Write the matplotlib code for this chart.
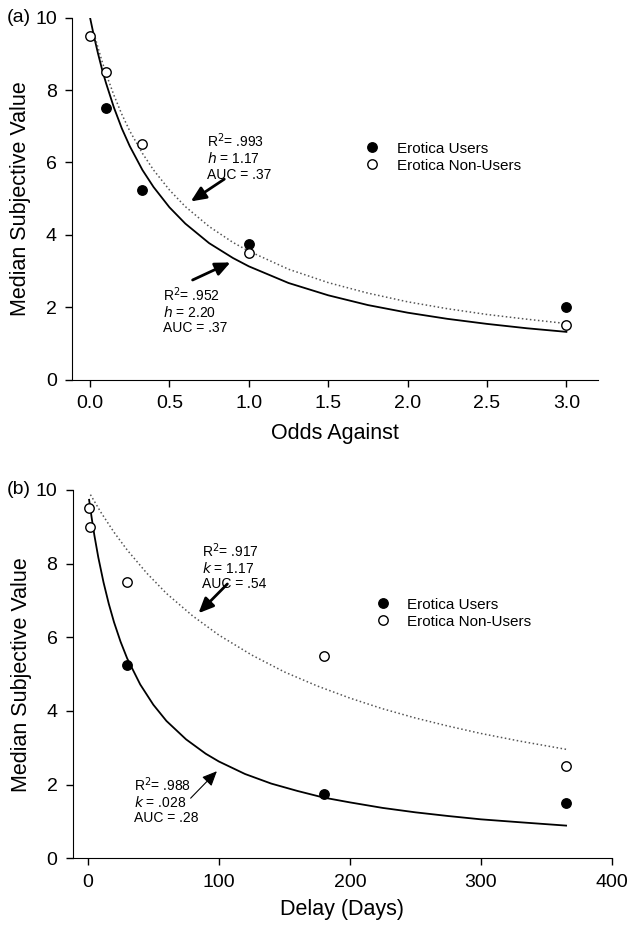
import matplotlib
matplotlib.use('Agg')
import matplotlib.pyplot as plt

plt.rcParams['font.family'] = ['Liberation Sans', 'DejaVu Sans']

# (a) probability discounting, odds against
odds_users = [0.1, 0.33, 1.0, 3.0]
sv_users_a = [7.5, 5.25, 3.75, 2.0]
odds_non = [0.0, 0.1, 0.33, 1.0, 3.0]
sv_non_a = [9.5, 8.5, 6.5, 3.5, 1.5]

# fitted curves, values
fit_x_users_a = [0, 0.025, 0.05, 0.075, 0.1, 0.15, 0.2, 0.25, 0.33, 0.4, 0.5, 0.6,
                 0.75, 0.9, 1.0, 1.25, 1.5, 1.75, 2.0, 2.25, 2.5, 2.75, 3.0]
fit_users_a = [10, 9.48, 9.01, 8.58, 8.2, 7.52, 6.94, 6.45, 5.79, 5.32, 4.76, 4.31,
               3.77, 3.36, 3.13, 2.67, 2.33, 2.06, 1.85, 1.68, 1.54, 1.42, 1.32]
fit_x_non_a = [0.025, 0.05, 0.075, 0.1, 0.15, 0.2, 0.25, 0.33, 0.4, 0.5, 0.6,
               0.75, 0.9, 1.0, 1.25, 1.5, 1.75, 2.0, 2.25, 2.5, 2.75, 3.0]
fit_non_a = [9.56, 9.17, 8.8, 8.46, 7.86, 7.33, 6.87, 6.25, 5.79, 5.24, 4.78,
             4.23, 3.79, 3.55, 3.05, 2.68, 2.39, 2.15, 1.96, 1.8, 1.67, 1.55]

# (b) delay discounting, days
days_users = [30, 180, 365]
sv_users_b = [5.25, 1.75, 1.5]
days_non = [1, 2, 30, 180, 365]
sv_non_b = [9.5, 9.0, 7.5, 5.5, 2.5]

fit_x_users_b = [1, 3, 5, 8, 12, 16, 20, 25, 30, 40, 50, 60, 75, 90, 100, 120,
                 140, 160, 180, 200, 225, 250, 275, 300, 330, 365]
fit_users_b = [9.73, 9.23, 8.77, 8.17, 7.49, 6.91, 6.41, 5.88, 5.43, 4.72, 4.17,
               3.73, 3.23, 2.84, 2.63, 2.29, 2.03, 1.83, 1.65, 1.52, 1.37, 1.25,
               1.15, 1.06, 0.98, 0.89]
fit_x_non_b = [2, 10, 20, 30, 45, 60, 80, 100, 125, 150, 175, 200, 225, 250,
               275, 300, 330, 365]
fit_non_b = [9.87, 9.39, 8.85, 8.37, 7.74, 7.19, 6.58, 6.06, 5.52, 5.06, 4.68,
             4.35, 4.06, 3.81, 3.59, 3.39, 3.18, 2.96]

fig = plt.figure(figsize=(6.27, 9.26), dpi=100)
ax_a = fig.add_axes([0.115, 0.590, 0.839, 0.391])
ax_b = fig.add_axes([0.116, 0.073, 0.860, 0.398])

ARROW = dict(arrowstyle='-|>,head_length=0.9,head_width=0.4', color='black', lw=2.0)


def style(ax):
    for s in ('top', 'right'):
        ax.spines[s].set_visible(False)
    ax.tick_params(direction='out', length=5, width=1, labelsize=14, pad=6)
    ax.set_ylim(0, 10)
    ax.set_yticks(range(0, 11, 2))
    ax.set_ylabel('Median Subjective Value', fontsize=15.5, labelpad=3)


def points(ax, xu, yu, xn, yn):
    ax.plot(xu, yu, 'o', color='black', ms=6.8, zorder=4, label='Erotica Users')
    ax.plot(xn, yn, 'o', mfc='white', mec='black', mew=1.0, ms=6.8, zorder=4,
            label='Erotica Non-Users')


# panel (a)
ax = ax_a
ax.plot(fit_x_users_a, fit_users_a, '-', color='black', lw=1.3, zorder=3)
ax.plot(fit_x_non_a, fit_non_a, ':', color='#555555', lw=1.1, zorder=3)
points(ax, odds_users, sv_users_a, odds_non, sv_non_a)
style(ax)
ax.set_xlim(-0.113, 3.2)
ax.set_xticks([0, 0.5, 1.0, 1.5, 2.0, 2.5, 3.0])
ax.set_xticklabels(['0.0', '0.5', '1.0', '1.5', '2.0', '2.5', '3.0'])
ax.set_xlabel('Odds Against', fontsize=15.5, labelpad=8)
ax.text(0.737, 6.85, 'R$^2$= .993\n$h$ = 1.17\nAUC = .37', fontsize=10,
        va='top', ha='left', linespacing=1.1)
ax.annotate('', xy=(0.62, 4.88), xytext=(0.86, 5.58), arrowprops=ARROW)
ax.text(0.46, 2.6, 'R$^2$= .952\n$h$ = 2.20\nAUC = .37', fontsize=10,
        va='top', ha='left', linespacing=1.1)
ax.annotate('', xy=(0.90, 3.27), xytext=(0.63, 2.72), arrowprops=ARROW)
ax.legend(loc='upper left', bbox_to_anchor=(0.53, 0.695), frameon=False,
          fontsize=11, handletextpad=1.1, labelspacing=0.2, handlelength=1.0)
fig.text(0.011, 0.981, '(a)', fontsize=14, va='center')

# panel (b)
ax = ax_b
ax.plot(fit_x_users_b, fit_users_b, '-', color='black', lw=1.3, zorder=3)
ax.plot(fit_x_non_b, fit_non_b, ':', color='#555555', lw=1.1, zorder=3)
points(ax, days_users, sv_users_b, days_non, sv_non_b)
style(ax)
ax.set_xlim(-11.5, 400)
ax.set_xticks(range(0, 401, 100))
ax.set_xlabel('Delay (Days)', fontsize=15.5, labelpad=6)
ax.text(87, 8.6, 'R$^2$= .917\n$k$ = 1.17\nAUC = .54', fontsize=10,
        va='top', ha='left', linespacing=1.1)
ax.annotate('', xy=(83, 6.6), xytext=(108, 7.5), arrowprops=ARROW)
ax.text(35, 2.25, 'R$^2$= .988\n$k$ = .028\nAUC = .28', fontsize=10,
        va='top', ha='left', linespacing=1.1)
ax.annotate('', xy=(100, 2.42), xytext=(77, 1.58),
            arrowprops=dict(arrowstyle='-|>,head_length=0.9,head_width=0.4',
                            color='black', lw=0.8))
ax.legend(loc='upper left', bbox_to_anchor=(0.535, 0.745), frameon=False,
          fontsize=11, handletextpad=1.1, labelspacing=0.2, handlelength=1.0)
fig.text(0.011, 0.471, '(b)', fontsize=14, va='center')

fig.savefig('out.png', dpi=100)
